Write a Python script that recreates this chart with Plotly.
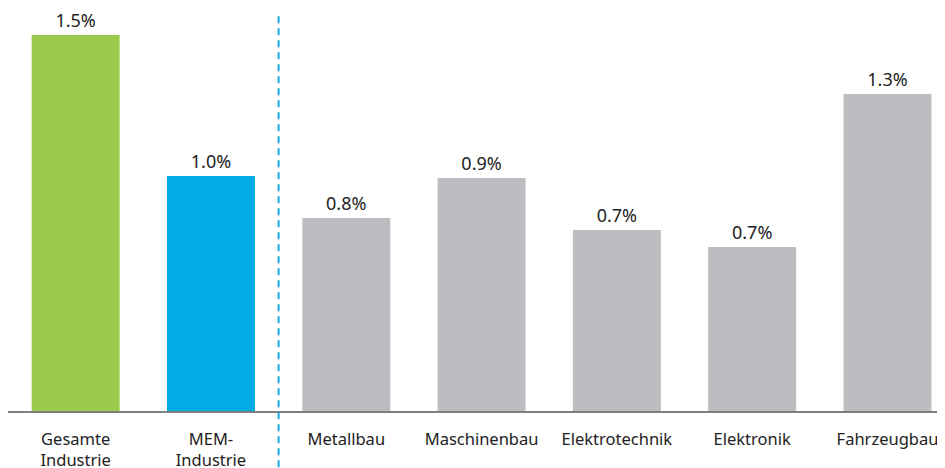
import plotly.graph_objects as go

categories = ["Gesamte<br>Industrie", "MEM-<br>Industrie", "Metallbau", "Maschinenbau",
              "Elektrotechnik", "Elektronik", "Fahrzeugbau"]
values = [1.504, 0.94, 0.772, 0.932, 0.724, 0.656, 1.268]
value_labels = ["1.5%", "1.0%", "0.8%", "0.9%", "0.7%", "0.7%", "1.3%"]
colors = ["#99ca4b", "#00abe6", "#bcbdc1", "#bcbdc1", "#bcbdc1", "#bcbdc1", "#bcbdc1"]

FONT = "Noto Sans"

fig = go.Figure(go.Bar(
    x=list(range(len(categories))),
    y=values,
    marker=dict(color=colors, line=dict(width=0)),
    width=0.65,
    text=value_labels,
    textposition="outside",
    textfont=dict(size=18, color="#222222", family=FONT),
    cliponaxis=False,
    hoverinfo="skip",
))

fig.add_shape(type="line", xref="x", yref="paper", x0=1.5, x1=1.5, y0=-0.2, y1=0.995,
              line=dict(color="#1aa8e2", width=2, dash="7px,5px"))

fig.update_layout(
    width=945, height=468,
    margin=dict(l=0, r=8, t=2, b=65, autoexpand=False),
    paper_bgcolor="white", plot_bgcolor="white",
    showlegend=False,
    font=dict(family=FONT, size=16.5, color="#222222"),
    xaxis=dict(
        range=[-0.5, 6.425],
        automargin=False,
        tickmode="array",
        tickvals=list(range(len(categories))),
        ticktext=categories,
        showline=True, linecolor="#7f7f7f", linewidth=2,
        ticks="outside", ticklen=12, tickcolor="rgba(0,0,0,0)",
        tickfont=dict(size=16.5, color="#222222", family=FONT),
        showgrid=False, zeroline=False,
    ),
    yaxis=dict(range=[0, 1.604], visible=False, showgrid=False, zeroline=False,
               automargin=False),
    bargap=0.35,
)

fig.write_html("out.html")
